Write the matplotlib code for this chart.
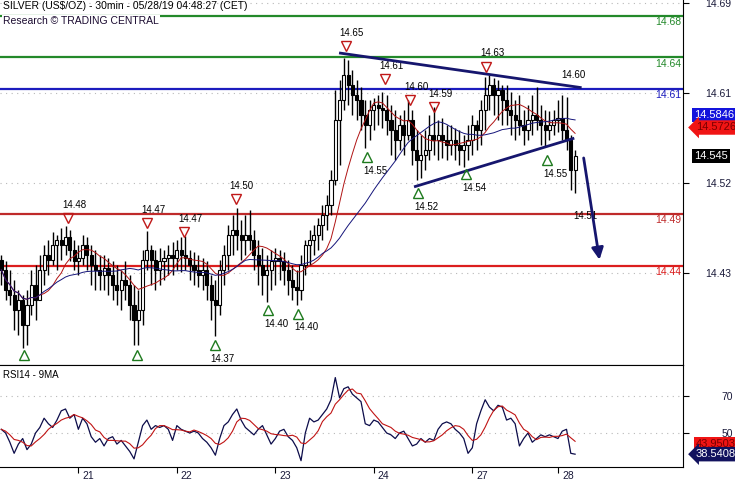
import numpy as np
import pandas as pd
import matplotlib
matplotlib.use('Agg')
import matplotlib.pyplot as plt
from matplotlib.transforms import blended_transform_factory, ScaledTranslation

plt.rcParams['font.family'] = ['Liberation Sans', 'DejaVu Sans']

# hourly bars (May 20 evening -> May 28 04:00 CET)
high = [14.450, 14.444, 14.436, 14.426, 14.417, 14.412, 14.417, 14.436, 14.441, 14.450, 14.460, 14.465, 14.472, 14.469, 14.476, 14.478, 14.474, 14.465,
        14.460, 14.469, 14.467, 14.460, 14.455, 14.450, 14.450, 14.447, 14.444, 14.441, 14.436, 14.444, 14.431, 14.421, 14.417, 14.455, 14.473, 14.460,
        14.455, 14.457, 14.455, 14.460, 14.463, 14.465, 14.467, 14.468, 14.455, 14.453, 14.450, 14.447, 14.444, 14.431, 14.426, 14.445, 14.460, 14.479,
        14.489, 14.495, 14.484, 14.489, 14.493, 14.474, 14.465, 14.457, 14.450, 14.455, 14.457, 14.455, 14.453, 14.445, 14.441, 14.436, 14.450, 14.465,
        14.474, 14.479, 14.486, 14.498, 14.508, 14.532, 14.609, 14.618, 14.639, 14.637, 14.628, 14.618, 14.611, 14.599, 14.599, 14.601, 14.604, 14.607,
        14.604, 14.594, 14.589, 14.585, 14.589, 14.599, 14.589, 14.570, 14.565, 14.570, 14.585, 14.592, 14.580, 14.582, 14.575, 14.575, 14.572, 14.570,
        14.565, 14.575, 14.585, 14.580, 14.599, 14.621, 14.623, 14.620, 14.618, 14.613, 14.613, 14.607, 14.599, 14.604, 14.589, 14.594, 14.604, 14.611,
        14.594, 14.589, 14.588, 14.589, 14.599, 14.604, 14.602, 14.565, 14.551]
low = [14.421, 14.407, 14.402, 14.378, 14.373, 14.361, 14.364, 14.393, 14.388, 14.412, 14.421, 14.431, 14.441, 14.436, 14.445, 14.450, 14.444, 14.436,
       14.431, 14.441, 14.436, 14.421, 14.417, 14.417, 14.417, 14.412, 14.407, 14.402, 14.397, 14.407, 14.388, 14.364, 14.364, 14.383, 14.436, 14.421,
       14.417, 14.421, 14.426, 14.431, 14.431, 14.436, 14.434, 14.436, 14.426, 14.421, 14.419, 14.417, 14.407, 14.388, 14.372, 14.393, 14.421, 14.436,
       14.450, 14.455, 14.445, 14.450, 14.455, 14.436, 14.421, 14.412, 14.405, 14.417, 14.421, 14.426, 14.421, 14.412, 14.407, 14.402, 14.407, 14.431,
       14.441, 14.450, 14.455, 14.465, 14.474, 14.489, 14.517, 14.537, 14.589, 14.594, 14.585, 14.580, 14.570, 14.553, 14.561, 14.570, 14.575, 14.572,
       14.565, 14.546, 14.541, 14.551, 14.546, 14.561, 14.537, 14.522, 14.524, 14.532, 14.541, 14.546, 14.541, 14.543, 14.541, 14.546, 14.541, 14.537,
       14.535, 14.541, 14.546, 14.551, 14.556, 14.570, 14.589, 14.585, 14.580, 14.575, 14.575, 14.565, 14.561, 14.565, 14.556, 14.561, 14.565, 14.570,
       14.556, 14.554, 14.561, 14.565, 14.568, 14.561, 14.551, 14.513, 14.510]
close = [14.436, 14.417, 14.412, 14.397, 14.407, 14.383, 14.402, 14.421, 14.407, 14.436, 14.450, 14.445, 14.460, 14.465, 14.460, 14.467, 14.455, 14.444,
         14.447, 14.460, 14.450, 14.441, 14.436, 14.431, 14.438, 14.431, 14.421, 14.417, 14.426, 14.421, 14.402, 14.388, 14.397, 14.445, 14.455, 14.445,
         14.436, 14.444, 14.447, 14.450, 14.447, 14.455, 14.450, 14.447, 14.441, 14.436, 14.431, 14.436, 14.421, 14.407, 14.402, 14.436, 14.450, 14.469,
         14.474, 14.469, 14.465, 14.469, 14.465, 14.450, 14.441, 14.431, 14.436, 14.444, 14.447, 14.444, 14.436, 14.426, 14.419, 14.417, 14.441, 14.460,
         14.465, 14.469, 14.479, 14.489, 14.498, 14.522, 14.580, 14.599, 14.623, 14.613, 14.604, 14.599, 14.585, 14.575, 14.589, 14.594, 14.591, 14.589,
         14.580, 14.570, 14.561, 14.575, 14.565, 14.580, 14.551, 14.541, 14.546, 14.551, 14.565, 14.561, 14.565, 14.561, 14.556, 14.561, 14.556, 14.551,
         14.556, 14.561, 14.575, 14.570, 14.589, 14.604, 14.613, 14.604, 14.609, 14.599, 14.589, 14.585, 14.580, 14.575, 14.570, 14.580, 14.585, 14.580,
         14.575, 14.570, 14.575, 14.580, 14.582, 14.570, 14.561, 14.532, 14.545]
rsi = [52, 50, 45, 39, 44, 47, 41, 44, 50, 53, 58, 55, 53, 57, 62, 63, 58, 60,
       52, 58, 55, 48, 45, 47, 43, 47, 48, 44, 46, 43, 40, 36, 45, 54, 57, 52,
       54, 53, 54, 52, 46, 54, 52, 51, 50, 51, 50, 47, 45, 42, 38, 47, 54, 56,
       60, 63, 57, 53, 51, 49, 52, 54, 49, 44, 47, 51, 52, 48, 46, 42, 35, 50,
       58, 56, 57, 60, 63, 68, 80, 69, 74, 75, 71, 69, 67, 55, 54, 57, 56, 53,
       50, 49, 47, 50, 51, 47, 43, 44, 47, 45, 47, 46, 52, 55, 56, 55, 52, 50,
       47, 39, 42, 55, 62, 68, 64, 62, 65, 64, 57, 58, 55, 43, 47, 50, 45, 47,
       49, 48, 49, 48, 47, 51, 52, 39, 38.54]

day_pos = [18, 41, 64, 87, 110, 130]
day_lab = ['21', '22', '23', '24', '27', '28']

levels = [14.68, 14.64, 14.61, 14.49, 14.44]
level_col = ['#23892a', '#23892a', '#1c1cbe', '#bf2a2a', '#dc1e1e']

peak_x = [15.6, 34.0, 42.6, 54.7, 80.4, 89.7, 95.5, 101.1, 113.2]
peak_y = [14.486, 14.481, 14.472, 14.504, 14.651, 14.619, 14.599, 14.592, 14.631]
peak_lab = ['14.48', '14.47', '14.47', '14.50', '14.65', '14.61', '14.60', '14.59', '14.63']
trough_x = [5.3, 31.7, 49.8, 62.4, 69.4, 85.5, 97.4, 108.6, 127.5]
trough_y = [14.354, 14.354, 14.364, 14.397, 14.394, 14.544, 14.510, 14.528, 14.541]
trough_lab = ['', '', '14.37', '14.40', '14.40', '14.55', '14.52', '14.54', '14.55']

# hand drawn triangle + target arrow
upper_x, upper_y = [79.2, 135.2], [14.644, 14.611]
lower_x, lower_y = [96.7, 133.5], [14.516, 14.562]
arrow_from, arrow_to = (135.9, 14.546), (139.8, 14.443)

close = np.array(close)
high = np.array(high)
low = np.array(low)
n = len(close)
x = np.arange(n)
op = np.r_[14.445, close[:-1]]
hi = np.maximum(high, np.maximum(op, close))
lo = np.minimum(low, np.minimum(op, close))
up = close >= op

ma_fast = pd.Series(close).rolling(10, min_periods=1).mean()
ma_slow = pd.Series(close).rolling(25, min_periods=1).mean()
rsi_ma = pd.Series(rsi).rolling(5, min_periods=1).mean()

fig = plt.figure(figsize=(7.35, 4.8), dpi=100)
ax = fig.add_axes([0, 115 / 480, 683 / 735, 365 / 480])
ax2 = fig.add_axes([0, 13 / 480, 683 / 735, 102 / 480])

# price panel
ax.vlines(x, lo, hi, color='black', lw=1.0, zorder=3)
ax.bar(x[up], close[up] - op[up], bottom=op[up], width=0.72, color='white',
       edgecolor='black', lw=0.8, zorder=4)
ax.bar(x[~up], close[~up] - op[~up], bottom=op[~up], width=0.72, color='black',
       edgecolor='black', lw=0.8, zorder=4)
ax.plot(x, ma_fast, color='#b01414', lw=0.7, zorder=5)
ax.plot(x, ma_slow, color='#14147a', lw=0.7, zorder=5)

for lv, c in zip(levels, level_col):
    ax.axhline(lv, color=c, lw=1.6, zorder=2)
    ax.text(0.998, lv - 0.0015, '%.2f' % lv, transform=blended_transform_factory(ax.transAxes, ax.transData),
            ha='right', va='top', fontsize=7.5, color=c)

ax.plot(upper_x, upper_y, color='#16166e', lw=2, zorder=6)
ax.plot(lower_x, lower_y, color='#16166e', lw=2, zorder=6)
ax.annotate('', xy=arrow_to, xytext=arrow_from,
            arrowprops=dict(arrowstyle='-|>,head_length=0.7,head_width=0.35', color='#16166e', lw=2), zorder=6)

ax.plot(peak_x, peak_y, 'v', ms=7, mfc='none', mec='#c01818', mew=1, zorder=7)
for px, py, t in zip(peak_x, peak_y, peak_lab):
    ax.annotate(t, (px, py), xytext=(4.5, 9.5), textcoords='offset points', ha='center', va='center', fontsize=7)
ax.plot(trough_x, trough_y, '^', ms=7, mfc='none', mec='#1e7a1e', mew=1, zorder=7)
for px, py, t in zip(trough_x, trough_y, trough_lab):
    ax.annotate(t, (px, py), xytext=(6, -10), textcoords='offset points', ha='center', va='center', fontsize=7)
ax.text(133.5, 14.623, '14.60', ha='center', va='center', fontsize=7)
ax.text(136.3, 14.488, '14.51', ha='center', va='center', fontsize=7)

ax.set_xlim(-0.3, 159.2)
ax.set_ylim(14.3446, 14.695)
ax.yaxis.tick_right()
ax.set_yticks([14.692, 14.606, 14.519, 14.433])
ax.set_yticklabels(['14.69', '14.61', '14.52', '14.43'])
ax.tick_params(axis='y', direction='out', length=4, pad=12, labelsize=7.5, colors='black', labelcolor='#1a1a3a')
ax.set_xticks([])
ax.grid(axis='y', color='#b8b8b8', linestyle=(0, (1, 4)), lw=0.8)
for s in ['left', 'top']:
    ax.spines[s].set_visible(False)

# rsi panel
ax2.plot(x, rsi, color='#0c0c4a', lw=0.9)
ax2.plot(x, rsi_ma, color='#c01414', lw=0.8)
ax2.set_xlim(-0.3, 159.2)
ax2.set_ylim(31.6, 86.8)
ax2.yaxis.tick_right()
ax2.set_yticks([70, 50])
ax2.tick_params(axis='y', direction='out', length=4, pad=24, labelsize=7.5, labelcolor='#1a1a3a')
ax2.grid(axis='y', color='#b8b8b8', linestyle=(0, (1, 4)), lw=0.8)
ax2.set_xticks(day_pos)
ax2.set_xticklabels(day_lab)
ax2.tick_params(axis='x', direction='out', length=4, pad=-1, labelsize=7.5, labelcolor='#1a1a3a')
for lbl in ax2.get_xticklabels():
    lbl.set_ha('left')
    lbl.set_transform(lbl.get_transform() + ScaledTranslation(4 / 100, 0, fig.dpi_scale_trans))
ax2.spines['left'].set_visible(False)
ax2.text(0.004, 0.95, 'RSI14 - 9MA', transform=ax2.transAxes, ha='left', va='top', fontsize=7)

# last-value tags on the right
tr = blended_transform_factory(ax.transAxes, ax.transData)
ax.text(1.016, 14.5846, '14.5846', transform=tr, ha='left', va='center', fontsize=8, color='white',
        bbox=dict(boxstyle='square,pad=0.2', fc='#1414dc', ec='none'), clip_on=False, zorder=10)
ax.text(1.019, 14.5726, '14.5726', transform=tr, ha='left', va='center', fontsize=8, color='#7a0000',
        bbox=dict(boxstyle='larrow,pad=0.2', fc='#f01414', ec='none'), clip_on=False, zorder=10)
ax.text(1.016, 14.545, '14.545', transform=tr, ha='left', va='center', fontsize=8, color='white',
        bbox=dict(boxstyle='square,pad=0.2', fc='black', ec='none'), clip_on=False, zorder=10)
tr2 = blended_transform_factory(ax2.transAxes, ax2.transData)
ax2.text(1.019, 43.95, '43.9503', transform=tr2, ha='left', va='center', fontsize=8, color='#7a0000',
         bbox=dict(boxstyle='square,pad=0.2', fc='#f01414', ec='none'), clip_on=False, zorder=10)
ax2.text(1.019, 38.54, '38.5408', transform=tr2, ha='left', va='center', fontsize=8, color='white',
         bbox=dict(boxstyle='larrow,pad=0.2', fc='#12125e', ec='none'), clip_on=False, zorder=10)

fig.text(0.004, 0.998, r'SILVER (US\$/OZ) - 30min - 05/28/19 04:48:27 (CET)', ha='left', va='top', fontsize=7.5)
fig.text(0.004, 0.966, 'Research © TRADING CENTRAL', ha='left', va='top', fontsize=7.5, color='#1a0a30',
         bbox=dict(boxstyle='square,pad=0.1', fc='white', ec='none'))

fig.savefig('out.png', dpi=100)
